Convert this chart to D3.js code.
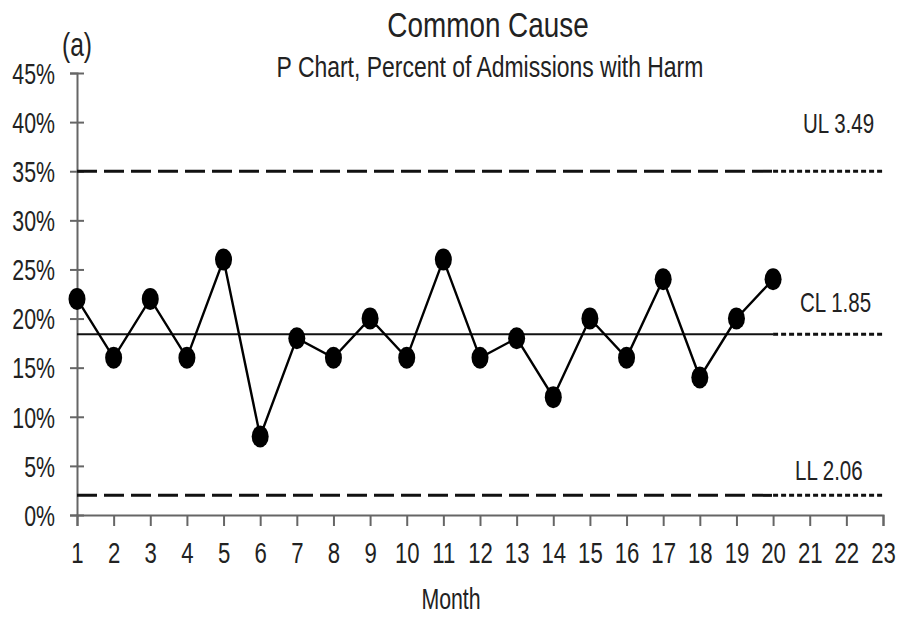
<!DOCTYPE html>
<html>
<head>
<meta charset="utf-8">
<script src="https://cdn.jsdelivr.net/npm/d3@7"></script>
<style>
  body { margin: 0; background: #fff; }
  text { font-family: "Liberation Sans", Arial, sans-serif; fill: #222; }
</style>
</head>
<body>
<div id="chart"></div>
<script>
// data
const months = [1, 2, 3, 4, 5, 6, 7, 8, 9, 10, 11, 12, 13, 14, 15, 16, 17, 18, 19, 20];
const harmPct = [22, 16, 22, 16, 26, 8, 18, 16, 20, 16, 26, 16, 18, 12, 20, 16, 24, 14, 20, 24];
const xTicks = [1, 2, 3, 4, 5, 6, 7, 8, 9, 10, 11, 12, 13, 14, 15, 16, 17, 18, 19, 20, 21, 22, 23];
const yTicks = [0, 5, 10, 15, 20, 25, 30, 35, 40, 45];
const limitNames = ["UL", "CL", "LL"];
const limitLabels = ["UL 3.49", "CL 1.85", "LL 2.06"];
const limitValues = [35, 18.4, 2];

const W = 900, H = 617;
const sx = 0.82, sy = 1.1; // narrow, slightly tall font look

const svg = d3.select("#chart").append("svg")
    .attr("width", W)
    .attr("height", H);

const x = d3.scaleLinear().domain([1, 23]).range([77, 883]);
const y = d3.scaleLinear().domain([0, 45]).range([515, 73]);

function narrowText(sel, px, py, str, size, anchor, ky) {
    return sel.append("text")
        .attr("transform", `translate(${px},${py}) scale(${sx},${ky || 1})`)
        .attr("text-anchor", anchor || "middle")
        .style("font-size", size + "px")
        .text(str);
}

// titles
narrowText(svg, 488, 37, "Common Cause", 34, "middle", 1.05);
narrowText(svg, 490, 77, "P Chart, Percent of Admissions with Harm", 28, "middle", 1.05);
narrowText(svg, 62, 56, "(a)", 30, "start", 1.1);

// axes
const yAxis = svg.append("g")
    .attr("transform", `translate(${x(1)},0)`)
    .call(d3.axisLeft(y).tickValues(yTicks).tickSize(7).tickFormat(d => d + "%"));
yAxis.selectAll(".tick line").attr("x1", 7);
yAxis.selectAll(".tick text")
    .attr("x", -22 / sx)
    .attr("dy", "0.36em")
    .attr("transform", `scale(${sx},${sy})`)
    .style("font-size", "26px");

const xAxis = svg.append("g")
    .attr("transform", `translate(0,${y(0)})`)
    .call(d3.axisBottom(x).tickValues(xTicks).tickSize(11).tickFormat(d3.format("d")));
xAxis.selectAll(".tick text")
    .attr("y", 48 / sy)
    .attr("dy", 0)
    .attr("transform", `scale(${sx},${sy})`)
    .style("font-size", "27px");

svg.selectAll(".domain").attr("stroke", "#666").attr("stroke-width", 2);
svg.selectAll(".tick line").attr("stroke", "#666").attr("stroke-width", 2);
svg.selectAll(".tick text").attr("fill", "#222").attr("font-family", null);

narrowText(svg, 451, 609, "Month", 26, "middle", sy);

// limit lines: drawn through month 20, projected dotted to 23
const limLayout = {
    UL: { lx: 803, dy: -38, dash: "20,7", w: 3 },
    CL: { lx: 800, dy: -22, dash: null, w: 2 },
    LL: { lx: 795, dy: -15, dash: "20,7", w: 3 }
};

limitNames.forEach((name, i) => {
    const v = limitValues[i];
    const L = limLayout[name];
    svg.append("line")
        .attr("x1", x(1)).attr("x2", x(20))
        .attr("y1", y(v)).attr("y2", y(v))
        .attr("stroke", "#111")
        .attr("stroke-width", L.w)
        .attr("stroke-dasharray", L.dash);
    svg.append("line")
        .attr("x1", x(20)).attr("x2", x(23))
        .attr("y1", y(v)).attr("y2", y(v))
        .attr("stroke", "#111")
        .attr("stroke-width", 3)
        .attr("stroke-dasharray", "5,3");
    narrowText(svg, L.lx, y(v) + L.dy, limitLabels[i], 25, "start", sy);
});

// series
const line = d3.line()
    .x((d, i) => x(months[i]))
    .y(d => y(d));

svg.append("path")
    .datum(harmPct)
    .attr("fill", "none")
    .attr("stroke", "#000")
    .attr("stroke-width", 2.4)
    .attr("d", line);

svg.selectAll(".pt")
    .data(harmPct)
    .enter().append("ellipse")
    .attr("class", "pt")
    .attr("cx", (d, i) => x(months[i]))
    .attr("cy", d => y(d))
    .attr("rx", 8.5)
    .attr("ry", 11)
    .attr("fill", "#000");
</script>
</body>
</html>
